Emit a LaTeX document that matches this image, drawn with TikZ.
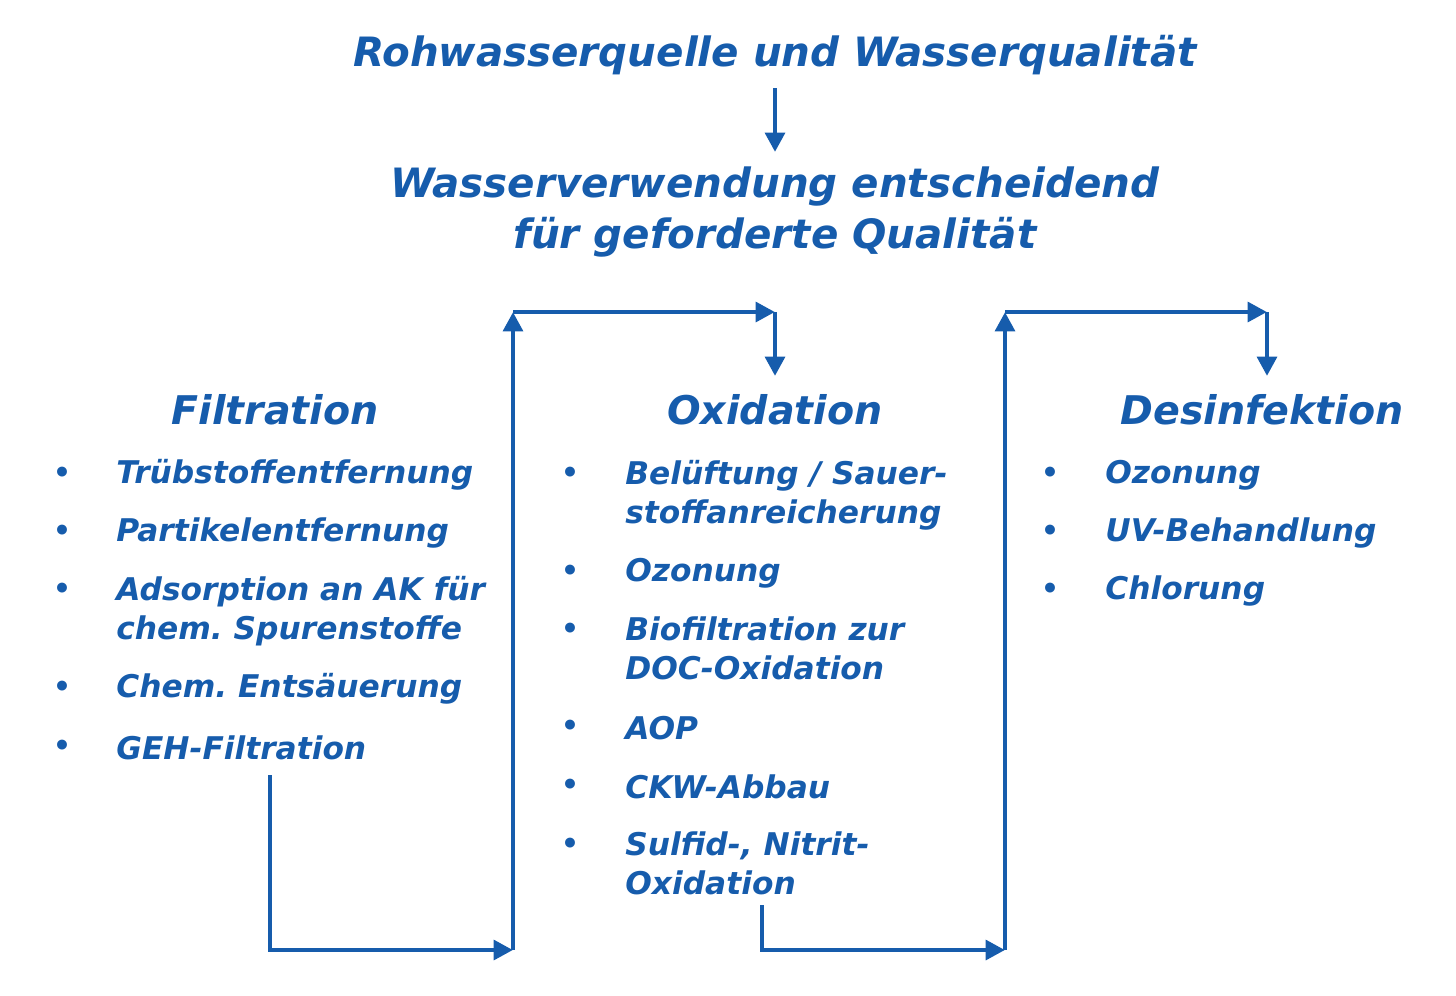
\documentclass[tikz,border=0pt]{standalone}
\usepackage{fontspec}
\setmainfont{DejaVu Sans}
\usetikzlibrary{arrows.meta}
\definecolor{wblue}{RGB}{22,92,172}
\frenchspacing
\begin{document}
\begin{tikzpicture}[x=0.02cm,y=-0.02cm,
  every node/.style={text=wblue,font=\bfseries\itshape},
  ttl/.style={font=\fontsize{23}{29}\selectfont\bfseries\itshape,align=center},
  hdr/.style={font=\fontsize{22.5}{25}\selectfont\bfseries\itshape},
  itm/.style={font=\fontsize{17.8}{22.2}\selectfont\bfseries\itshape,anchor=west,align=left,inner sep=0pt},
  bul/.style={font=\fontsize{16}{18}\selectfont\bfseries,inner sep=0pt},
  con/.style={draw=wblue,line width=2.8pt},
  arr/.style={con,-{Triangle[length=11pt,width=11pt]}}]
\useasboundingbox (0,0) rectangle (1456,995);
\node[ttl] (t1) at (775,55) {Rohwasserquelle und Wasserqualität};
\node[ttl] (t2) at (775,212) {Wasserverwendung entscheidend\\für geforderte Qualität};
\draw[arr] (775,88) -- (775,152);
\node[hdr] (hf) at (275,410) {Filtration};
\node[hdr] (ho) at (775,410) {Oxidation};
\node[hdr] (hd) at (1262,410) {Desinfektion};
% Filtration
\foreach \y/\t in {475/Trübstoffentfernung,533/Partikelentfernung,689/Chem. Entsäuerung,748/GEH-Filtration}
  {\node[bul] at (62,\y) {•}; \node[itm] at (116,\y) {\t};}
\node[bul] at (62,591) {•}; \node[itm,anchor=north west] at (116,576) {Adsorption an AK für\\chem. Spurenstoffe};
% Oxidation
\node[bul] at (570,475) {•}; \node[itm,anchor=north west] at (625,460) {Belüftung / Sauer-\\stoffanreicherung};
\foreach \y/\t in {573/Ozonung,728/AOP,787/CKW-Abbau}
  {\node[bul] at (570,\y) {•}; \node[itm] at (625,\y) {\t};}
\node[bul] at (570,631) {•}; \node[itm,anchor=north west] at (625,616) {Biofiltration zur\\DOC-Oxidation};
\node[bul] at (570,846) {•}; \node[itm,anchor=north west] at (625,831) {Sulfid-, Nitrit-\\Oxidation};
% Desinfektion
\foreach \y/\t in {475/Ozonung,533/UV-Behandlung,591/Chlorung}
  {\node[bul] at (1050,\y) {•}; \node[itm] at (1105,\y) {\t};}
% connectors
\coordinate (a1) at (270,775); \coordinate (a2) at (270,950); \coordinate (a3) at (513,950);
\coordinate (a4) at (513,312); \coordinate (a5) at (775,312); \coordinate (a6) at (775,376);
\draw[arr] (a1) -- (a2) -- (a3);
\draw[arr] (a3) -- (a4);
\draw[arr] (a4) -- (a5);
\draw[arr] (a5) -- (a6);
\coordinate (b1) at (762,905); \coordinate (b2) at (762,950); \coordinate (b3) at (1005,950);
\coordinate (b4) at (1005,312); \coordinate (b5) at (1267,312); \coordinate (b6) at (1267,376);
\draw[arr] (b1) -- (b2) -- (b3);
\draw[arr] (b3) -- (b4);
\draw[arr] (b4) -- (b5);
\draw[arr] (b5) -- (b6);
\end{tikzpicture}
\end{document}
